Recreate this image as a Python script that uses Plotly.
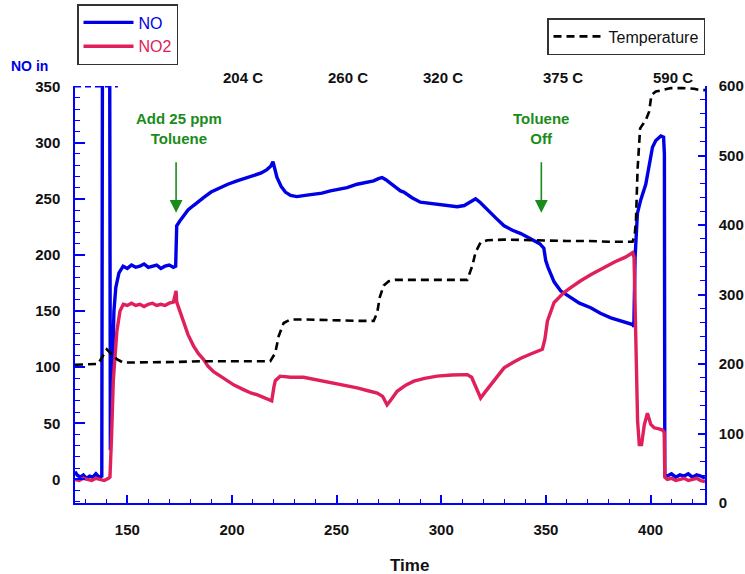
import plotly.graph_objects as go

# ---------------- data ----------------
no_t = [125, 126, 127.5, 129, 130.5, 132, 133.5, 135, 136.5, 137.8,
        138.1, 141.6, 141.9, 143, 143.6, 144.5, 146, 148, 150, 152, 154, 156, 158, 160, 162, 164, 166, 168, 170, 172, 173.1,
        173.3, 173.6, 175, 176.8, 179, 181.6, 184, 186.4, 190, 194.4, 198, 202.4, 206, 210.3, 214, 216.7, 218.5, 219.6,
        220.5, 221.5, 223.5, 225.5, 228, 231, 235, 239, 243, 247, 250, 255, 259.8, 264, 267.7, 270, 271.7, 273.5, 275.7,
        278, 280.5, 282.1, 286, 290, 295, 299.6, 303, 307.6, 311, 314, 316.4, 318.5, 322, 326, 330, 334, 338, 341, 344.3,
        347, 349, 349.9, 351, 353.9, 357, 361.8, 366, 371.4, 376, 381, 386, 389, 391.4, 392,
        392.6, 393.7, 395.3, 397.7, 399.3, 400.9, 402.5, 404.9, 406.2, 406.6, 406.8, 408, 410, 412, 414, 416, 418, 420,
        422, 424, 426]
no_v = [7, 4, 2, 4, 1, 3, 2, 5, 2, 3,
        355, 355, 26, 120, 150, 171, 184, 190, 188, 191, 189, 190, 192, 189, 190, 191, 188, 190, 191, 189, 190,
        215, 226, 230, 235, 240, 244, 248, 251, 256, 260, 263, 266, 268, 271, 273, 276, 279, 283,
        276, 269, 261, 256, 253, 252, 253, 254, 255, 257, 258, 260, 263, 265, 266, 268, 269, 267, 264,
        260, 257, 256, 251, 247, 246, 245, 244, 243, 244, 247, 250, 247, 240, 233, 226, 222, 219, 216, 213,
        210, 206, 195, 189, 176, 168, 162, 157, 153, 148, 144, 141, 139, 138, 136,
        198, 237, 249, 263, 278, 296, 302, 306, 305, 290, 4, 3, 5, 2, 4, 3, 5, 2,
        4, 3, 1]

no2_t = [125, 127, 129, 131, 133, 135, 137, 139, 141, 141.7, 142.5, 143.3, 145, 146.5, 148.1, 150, 152, 154, 156, 158,
         160, 162, 164, 166, 168, 170, 172, 173.3, 173.6, 175, 176.8, 179, 181.6, 184, 186.4, 188.5, 191.2, 194.4,
         197.6, 201, 205.5, 209, 211.9, 215, 217.5, 219, 220, 220.7, 223, 228, 234.2, 240, 247, 253, 259.8, 265,
         269.4, 272, 274.1, 276, 278.9, 283, 286.9, 292, 298, 305, 312.4, 314.5, 316.5, 318.8, 321, 323.6, 327, 330,
         334, 338, 343, 348.3, 349.5, 350.7, 353.9, 358.6, 362, 366.6, 372, 377.8, 383, 388, 391.4, 392.1, 393,
         393.8, 394.6, 395.7, 397, 398.5, 400.1, 401.7, 404, 405.7, 406.5, 406.8, 408, 410, 412, 414, 416, 418, 420,
         422, 424, 426]
no2_v = [0, -1, 1, 0, -1, 1, 0, -1, 1, 2, 40, 88, 132, 150, 156, 155, 157, 155, 156, 154,
         156, 157, 155, 156, 155, 157, 158, 168, 158, 150, 141, 129, 119, 112, 107, 101, 96, 92,
         87.5, 84, 80, 77, 75.5, 73, 71, 70, 82, 88, 92, 91, 91, 89, 86, 84, 81.5, 79,
         77, 74, 66.5, 71, 78.5, 84, 87.5, 90, 92, 93, 93.4, 91, 82, 72.5, 78, 84.4, 92, 99.4,
         104, 108, 112, 116, 125, 141, 157.6, 166.5, 171, 177, 183, 189, 194, 198, 202, 198, 102,
         52, 31, 31, 48.6, 59, 49, 46, 45, 44, 42, 2, 0, 1, -1, 0, 1, -1, 0,
         1, -1, -2]

temp_t = [125, 130, 136, 138, 140.2, 142.5, 145, 148, 155, 165, 175, 185, 195, 205, 212, 218.3, 220.7, 222.3,
          224.7, 227.9, 235, 245, 255, 262, 267.7, 269.4, 270.6, 272.5, 274.9, 278, 290, 300, 312.4, 314.8, 316.4,
          318.8, 322, 330, 340, 350, 360, 370, 380, 391.4, 392.4, 393, 393.8, 395, 397.7, 399.3, 400.4, 402.5,
          404.9, 409.7, 415, 420.8, 424, 426]
temp_v = [199, 199, 200, 210, 221, 214, 207, 202, 202, 203, 203, 204, 204, 204, 204, 204, 216, 240,
          259, 264, 264, 263, 263, 262, 262, 274, 296, 313, 319, 321, 321, 321, 321, 341, 361,
          375, 378, 379, 378, 378, 377, 377, 376, 376, 385, 405, 481, 539, 551, 563, 587, 592,
          594, 597, 597, 596, 594, 594]

temp_labels = ["204 C", "260 C", "320 C", "375 C", "590 C"]
temp_label_t = [205.4, 255.6, 300.6, 358.0, 410.6]

x_ticks = [150, 200, 250, 300, 350, 400]
y_left_ticks = [0, 50, 100, 150, 200, 250, 300, 350]
y_right_ticks = [0, 100, 200, 300, 400, 500, 600]

no_in_level = 350

BLUE = "#0000e6"
RED = "#e0205a"
GREEN = "#1a8c1a"
AXIS = "#0000ff"
FONT = "Liberation Sans, Arial, sans-serif"

fig = go.Figure()

fig.add_trace(go.Scatter(
    x=no_t, y=no_v, mode="lines", name="<span style='color:%s'>NO</span>" % BLUE,
    line=dict(color=BLUE, width=3.4), legend="legend"))
fig.add_trace(go.Scatter(
    x=no2_t, y=no2_v, mode="lines", name="<span style='color:%s'>NO2</span>" % RED,
    line=dict(color=RED, width=3.4), legend="legend"))
fig.add_trace(go.Scatter(
    x=temp_t, y=temp_v, mode="lines", name="Temperature", yaxis="y2",
    line=dict(color="black", width=2.6, dash="8px,5px"), legend="legend2"))

# dashed NO-in reference line
fig.add_shape(type="line", xref="x", yref="y", x0=125, x1=145.5, y0=no_in_level, y1=no_in_level,
              line=dict(color=AXIS, width=2, dash="6px,4px"))

annotations = []
for lab, t in zip(temp_labels, temp_label_t):
    annotations.append(dict(x=t, y=(503 - 78) / 417, xref="x", yref="paper", text="<b>%s</b>" % lab,
                            showarrow=False, font=dict(family=FONT, size=15, color="#111"),
                            xanchor="center", yanchor="middle"))

annotations.append(dict(x=174.5, y=(503 - 128) / 417, xref="x", yref="paper",
                        text="<b>Add 25 ppm<br>Toluene</b>", showarrow=False,
                        font=dict(family=FONT, size=15, color=GREEN), xanchor="center", yanchor="middle"))
annotations.append(dict(x=347.8, y=(503 - 128) / 417, xref="x", yref="paper",
                        text="<b>Toluene<br>Off</b>", showarrow=False,
                        font=dict(family=FONT, size=15, color=GREEN), xanchor="center", yanchor="middle"))
for xt in [173.3, 347.8]:
    annotations.append(dict(x=xt, y=237.5, xref="x", yref="y", ax=0, ay=-52, axref="pixel", ayref="pixel",
                            text="", showarrow=True, arrowhead=2, arrowsize=1.6, arrowwidth=1.6,
                            arrowcolor=GREEN, standoff=0, startstandoff=0))

annotations.append(dict(x=-0.073, y=(503 - 66) / 417, xref="paper", yref="paper", text="<b>NO in</b>",
                        showarrow=False, font=dict(family=FONT, size=14, color=BLUE),
                        xanchor="center", yanchor="middle"))
annotations.append(dict(x=(409 - 75) / 630, y=(503 - 565) / 417, xref="paper", yref="paper",
                        text="<b>Time</b>", showarrow=False, font=dict(family=FONT, size=17, color="#111"),
                        xanchor="center", yanchor="middle"))

tickfont = dict(family=FONT, size=15, color="#111", weight="bold")

fig.update_layout(
    width=745, height=574,
    margin=dict(l=75, r=40, t=86, b=71, autoexpand=False),
    paper_bgcolor="white", plot_bgcolor="white",
    font=dict(family=FONT),
    showlegend=True,
    xaxis=dict(range=[125, 426], tickmode="array", tickvals=x_ticks, showgrid=False, zeroline=False,
               showline=True, linecolor=AXIS, linewidth=1.5, ticks="inside", ticklen=8, tickwidth=1.5,
               tickcolor=AXIS, tickfont=tickfont, ticklabelstandoff=12, automargin=False,
               minor=dict(dtick=10, ticks="inside", ticklen=4, tickcolor=AXIS, tickwidth=1.2, showgrid=False)),
    yaxis=dict(range=[-21, 350.5], tickmode="array", tickvals=y_left_ticks, showgrid=False, zeroline=False,
               showline=True, linecolor=AXIS, linewidth=1.5, ticks="inside", ticklen=10, tickwidth=1.5,
               tickcolor=AXIS, tickfont=tickfont, ticklabelstandoff=10, automargin=False,
               minor=dict(dtick=10, ticks="inside", ticklen=5, tickcolor=AXIS, tickwidth=1.2, showgrid=False)),
    yaxis2=dict(range=[0, 600], overlaying="y", side="right", tickmode="array", tickvals=y_right_ticks,
                showgrid=False, zeroline=False, showline=True, linecolor=AXIS, linewidth=1.5,
                ticks="inside", ticklen=7, tickwidth=1.5, tickcolor=AXIS, tickfont=tickfont,
                ticklabelstandoff=9, automargin=False,
                minor=dict(dtick=20, ticks="inside", ticklen=5, tickcolor=AXIS, tickwidth=1.2, showgrid=False)),
    legend=dict(x=(77 - 75) / 630, y=(503 - 4) / 417, xanchor="left", yanchor="top",
                bordercolor="#333", borderwidth=1.5, bgcolor="white",
                font=dict(family=FONT, size=16, color="#111"), itemwidth=50, tracegroupgap=0),
    legend2=dict(x=(547 - 75) / 630, y=(503 - 18) / 417, xanchor="left", yanchor="top",
                 bordercolor="#333", borderwidth=1.5, bgcolor="white",
                 font=dict(family=FONT, size=16, color="#111"), itemwidth=50),
    annotations=annotations,
)

fig.write_html("out.html")
